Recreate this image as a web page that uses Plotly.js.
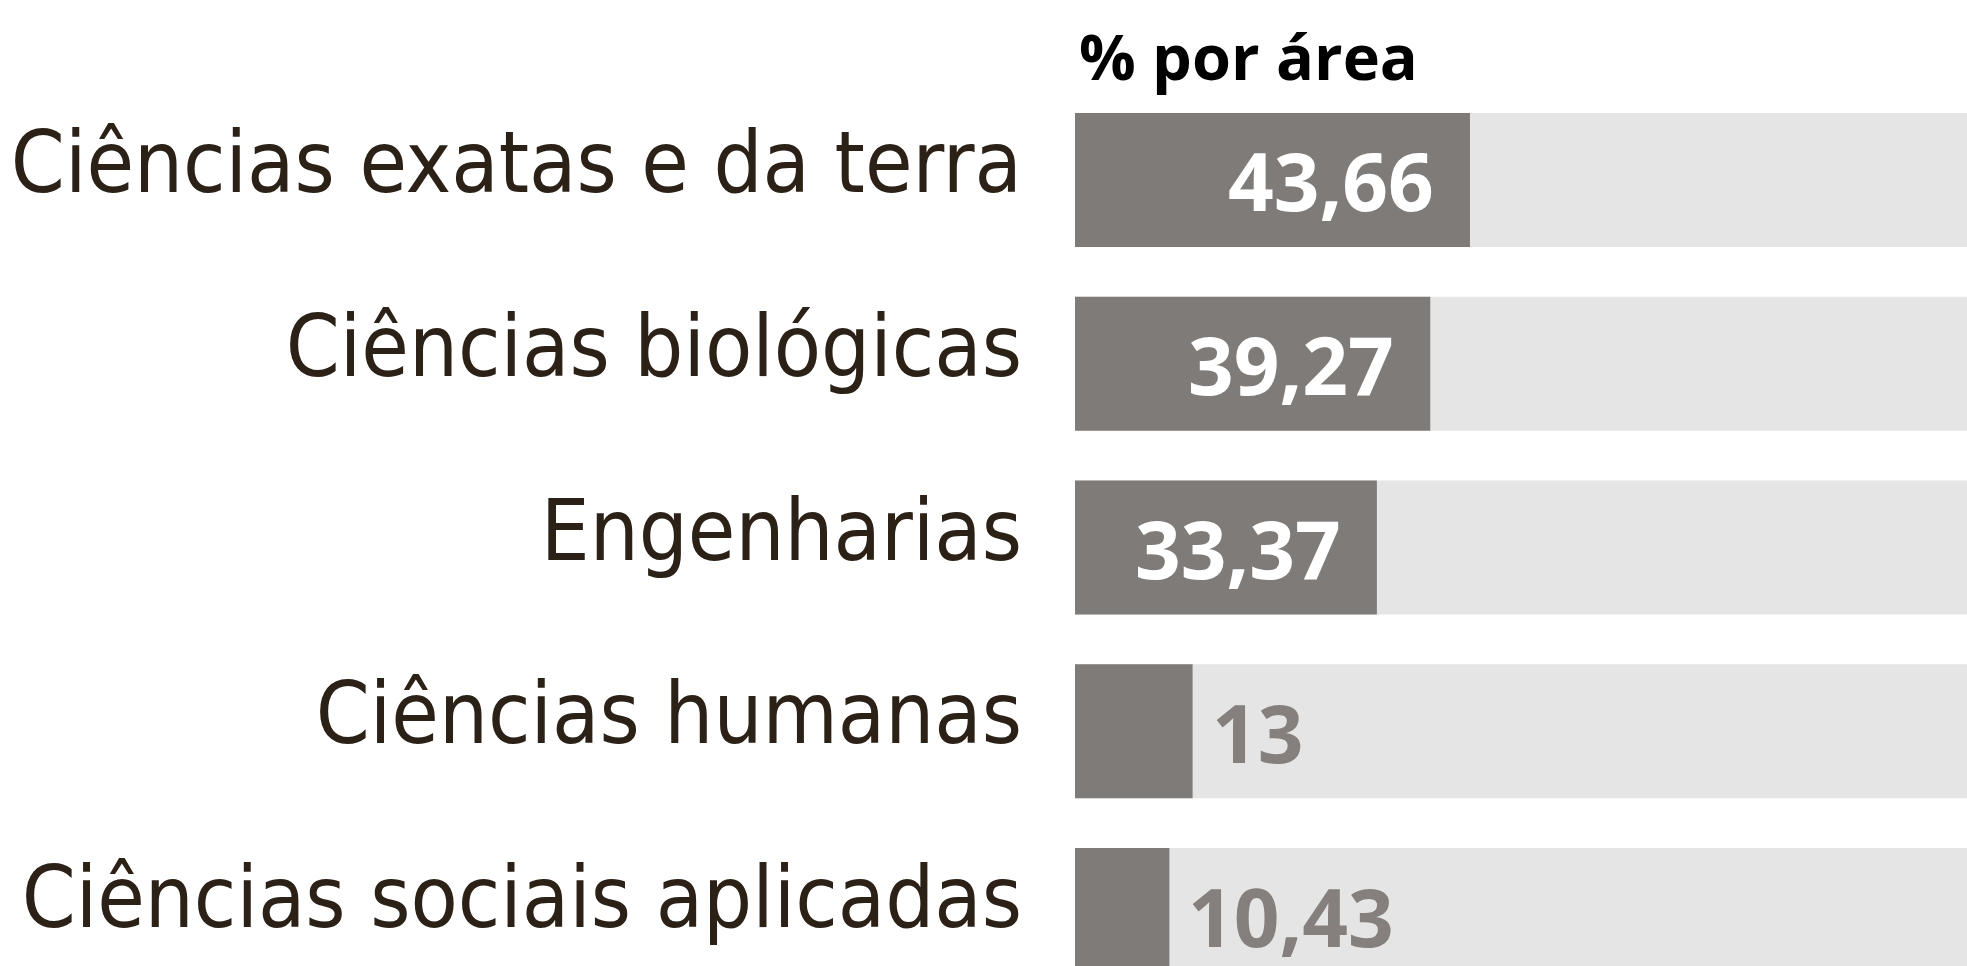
<!DOCTYPE html>
<html>
<head>
<meta charset="utf-8">
<script src="https://cdn.plot.ly/plotly-3.0.1.min.js"></script>
<style>
html,body{margin:0;padding:0;background:#ffffff;}
#chart{width:1967px;height:966px;}
</style>
</head>
<body>
<div id="chart"></div>
<script>
// Data
const categories = [
  "Ciências exatas e da terra",
  "Ciências biológicas",
  "Engenharias",
  "Ciências humanas",
  "Ciências sociais aplicadas"
];
const values = [43.66, 39.27, 33.37, 13, 10.43];
const valueLabels = ["43,66", "39,27", "33,37", "13", "10,43"];
const fullScale = [100, 100, 100, 100, 100];
const chartTitle = "% por área";

const barColor = "#7f7b79";
const trackColor = "#e5e5e5";

const traces = [
  {
    type: "bar", orientation: "h",
    y: categories, x: fullScale,
    marker: {color: trackColor},
    hoverinfo: "skip", showlegend: false
  },
  {
    type: "bar", orientation: "h",
    y: categories, x: values,
    marker: {color: barColor},
    hoverinfo: "skip", showlegend: false
  }
];

const annotations = values.map((v, i) => {
  const inside = v > 20;
  return {
    x: v, y: categories[i], xref: "x", yref: "y",
    text: valueLabels[i], showarrow: false,
    xanchor: inside ? "right" : "left",
    xshift: inside ? -34 : 17,
    yanchor: "middle",
    font: {family: "Open Sans", size: 80, weight: 700, color: inside ? "#ffffff" : "#85807d"}
  };
});

const layout = {
  width: 1967, height: 966,
  margin: {l: 1075, r: 0, t: 88, b: 0, pad: 0},
  paper_bgcolor: "#ffffff", plot_bgcolor: "#ffffff",
  barmode: "overlay", bargap: 0.271,
  title: {
    text: chartTitle,
    x: 1079 / 1967, xref: "container", xanchor: "left",
    y: 1 - 58 / 966, yref: "container", yanchor: "middle",
    font: {family: "Open Sans", size: 63, weight: 700, color: "#000000"}
  },
  xaxis: {
    range: [0, 98.6], visible: false, fixedrange: true
  },
  yaxis: {
    type: "category", categoryarray: categories, categoryorder: "array",
    range: [4.277, -0.5],
    showgrid: false, zeroline: false, showline: false, ticks: "",
    ticklabelstandoff: 52,
    ticklabelshift: 18,
    tickfont: {family: "Liberation Sans Narrow, DejaVu Sans Condensed, sans-serif", size: 86, color: "#2b2116"},
    fixedrange: true
  },
  annotations: annotations,
  showlegend: false
};

Plotly.newPlot("chart", traces, layout, {displayModeBar: false, staticPlot: true});
</script>
</body>
</html>
